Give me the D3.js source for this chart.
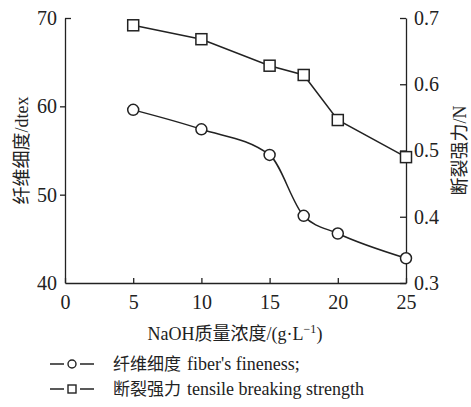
<!DOCTYPE html>
<html>
<head>
<meta charset="utf-8">
<script src="https://cdn.jsdelivr.net/npm/d3@7"></script>
<style>
  body { margin: 0; background: #fff; }
  text { font-family: "Liberation Serif", "Noto Sans CJK SC", serif; fill: #222; }
  .cjk { font-family: "Noto Sans CJK SC", sans-serif; }
  .lat { font-family: "Liberation Serif", serif; }
</style>
</head>
<body>
<svg id="chart" width="471" height="407"></svg>
<script>
// data
const naoh = [5, 10, 15, 17.5, 20, 25];
const fineness = [59.6, 57.4, 54.5, 47.6, 45.6, 42.8];
const strength = [0.689, 0.668, 0.628, 0.614, 0.546, 0.49];
const xTicks = [0, 5, 10, 15, 20, 25];
const leftTicks = [40, 50, 60, 70];
const rightTicks = [0.3, 0.4, 0.5, 0.6, 0.7];

const INK = '#222';
const root = d3.select('#chart');

const margin = { left: 65, right: 65, top: 18, bottom: 124 };
const W = 471, H = 407;

const x = d3.scaleLinear().domain([0, 25]).range([margin.left, W - margin.right]);
const yL = d3.scaleLinear().domain([40, 70]).range([H - margin.bottom, margin.top]);
const yR = d3.scaleLinear().domain([0.3, 0.7]).range([H - margin.bottom, margin.top]);

function styleAxis(g) {
  g.selectAll('path, line').attr('stroke', INK).attr('stroke-width', 1.3);
  g.selectAll('text').attr('font-size', '20px').attr('fill', INK);
}

// x axis, ticks pointing up
root.append('g')
  .attr('transform', `translate(0,${yL(40)})`)
  .call(d3.axisBottom(x).tickValues(xTicks).tickSize(-5).tickSizeOuter(0).tickPadding(8))
  .call(styleAxis)
  .call(g => g.selectAll('text').attr('dy', '0.9em'));

// left axis
const leftAxis = root.append('g')
  .attr('transform', `translate(${x(0)},0)`)
  .call(d3.axisLeft(yL).tickValues(leftTicks).tickSize(5).tickSizeOuter(0).tickPadding(3))
  .call(styleAxis);
leftAxis.selectAll('.tick').filter(d => d === 70).select('line').attr('x2', 6);
leftAxis.selectAll('.tick').filter(d => d === 40).select('line').remove();

// right axis, ticks pointing in
root.append('g')
  .attr('transform', `translate(${x(25)},0)`)
  .call(d3.axisRight(yR).tickValues(rightTicks).tickSize(-6).tickSizeOuter(0).tickPadding(8).tickFormat(d3.format('.1f')))
  .call(styleAxis);

// lines
const lineF = d3.line().x((d, i) => x(naoh[i])).y(d => yL(d)).curve(d3.curveMonotoneX);
const lineS = d3.line().x((d, i) => x(naoh[i])).y(d => yR(d));

root.append('path').datum(fineness)
  .attr('d', lineF).attr('fill', 'none').attr('stroke', INK).attr('stroke-width', 1.5);
root.append('path').datum(strength)
  .attr('d', lineS).attr('fill', 'none').attr('stroke', INK).attr('stroke-width', 1.5);

root.selectAll('.pt-f').data(fineness).enter().append('circle')
  .attr('class', 'pt-f')
  .attr('cx', (d, i) => x(naoh[i])).attr('cy', d => yL(d))
  .attr('r', 5.5).attr('fill', '#fff').attr('stroke', INK).attr('stroke-width', 1.5);

root.selectAll('.pt-s').data(strength).enter().append('rect')
  .attr('class', 'pt-s')
  .attr('x', (d, i) => x(naoh[i]) - 5.5).attr('y', d => yR(d) - 5.5)
  .attr('width', 11).attr('height', 11)
  .attr('fill', '#fff').attr('stroke', INK).attr('stroke-width', 1.5);

// axis titles
root.append('text')
  .attr('transform', `translate(28,${(yL(40) + yL(70)) / 2}) rotate(-90)`)
  .attr('text-anchor', 'middle').attr('font-size', '18px')
  .text('纤维细度/dtex');

root.append('text')
  .attr('transform', `translate(466,${(yR(0.3) + yR(0.7)) / 2}) rotate(-90)`)
  .attr('text-anchor', 'middle').attr('font-size', '18px')
  .text('断裂强力/N');

const xt = root.append('text')
  .attr('x', 235).attr('y', 340)
  .attr('text-anchor', 'middle').attr('font-size', '18px');
xt.append('tspan').text('NaOH质量浓度/(g·L');
xt.append('tspan').attr('dy', -7).attr('font-size', '12px').text('−1');
xt.append('tspan').attr('dy', 7).text(')');

// legend
const legend = [
  { cn: '纤维细度', en: 'fiber\'s fineness;', shape: 'circle' },
  { cn: '断裂强力', en: 'tensile breaking strength', shape: 'square' }
];
const lg = root.selectAll('.legend').data(legend).enter().append('g')
  .attr('class', 'legend')
  .attr('transform', (d, i) => `translate(50,${364 + i * 25})`);
lg.append('line').attr('x1', 0).attr('x2', 14).attr('y1', 0).attr('y2', 0)
  .attr('stroke', INK).attr('stroke-width', 1.5);
lg.append('line').attr('x1', 30).attr('x2', 44).attr('y1', 0).attr('y2', 0)
  .attr('stroke', INK).attr('stroke-width', 1.5);
lg.filter(d => d.shape === 'circle').append('circle')
  .attr('cx', 22).attr('cy', 0).attr('r', 4)
  .attr('fill', '#fff').attr('stroke', INK).attr('stroke-width', 1.4);
lg.filter(d => d.shape === 'square').append('rect')
  .attr('x', 18).attr('y', -4).attr('width', 8).attr('height', 8)
  .attr('fill', '#fff').attr('stroke', INK).attr('stroke-width', 1.4);
lg.each(function (d) {
  const g = d3.select(this);
  const cn = g.append('text').attr('class', 'cjk').attr('x', 63).attr('y', 6)
    .attr('font-size', '17px').text(d.cn);
  const w = cn.node().getComputedTextLength();
  g.append('text').attr('class', 'lat').attr('x', 63 + w + 6).attr('y', 6)
    .attr('font-size', '18px').text(d.en);
});
</script>
</body>
</html>
